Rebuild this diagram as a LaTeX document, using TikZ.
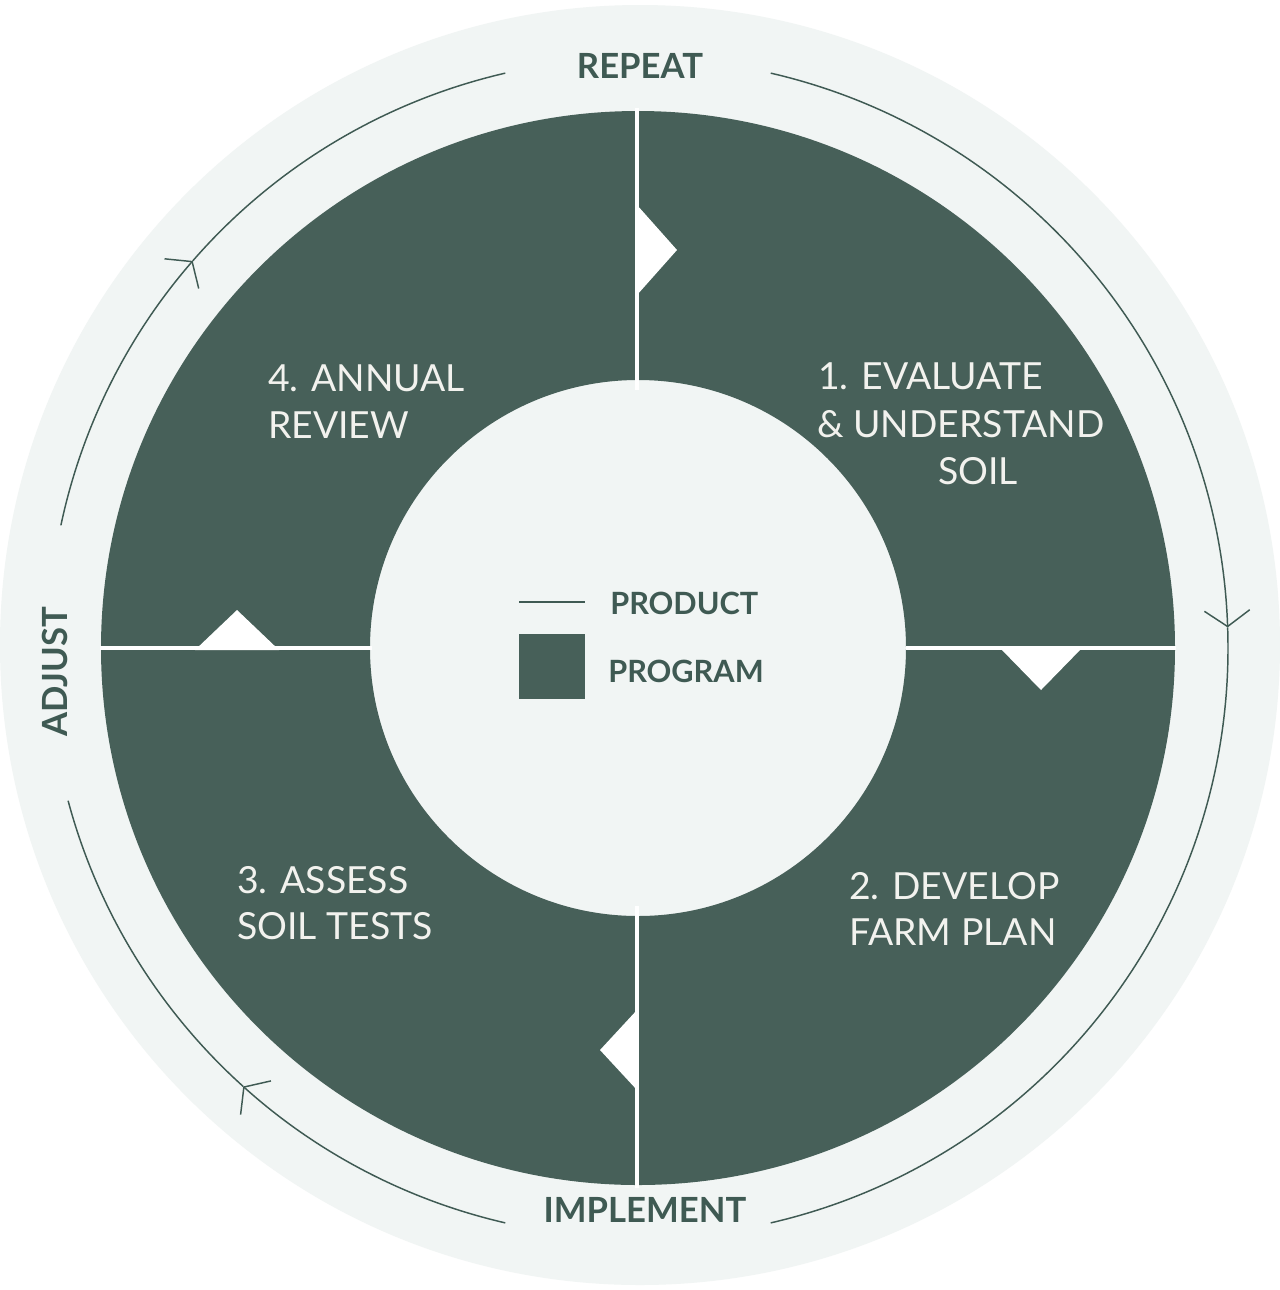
\documentclass[tikz,border=0pt]{standalone}
\usepackage{fontspec}
\setmainfont{Lato}
\usetikzlibrary{arrows.meta,calc}
\definecolor{dk}{HTML}{476059}
\definecolor{bg}{HTML}{F1F5F4}
\definecolor{lbl}{HTML}{3F5A53}
\definecolor{lt}{HTML}{F2F2EE}
\begin{document}
\begin{tikzpicture}[x=0.75pt,y=-0.75pt,
  cyc/.style={draw=lbl,line width=1.1pt},
  tip/.style={-{Straight Barb[length=12pt,width=34pt,line width=1.1pt]}},
  outlbl/.style={text=lbl,font=\fontsize{26}{30}\selectfont\bfseries},
  qtxt/.style={text=lt,font=\fontsize{28}{34}\selectfont,anchor=west,inner sep=0pt},
  lgd/.style={text=lbl,font=\fontsize{23}{26}\selectfont\bfseries,anchor=west,inner sep=0pt},
  notch/.style={fill=white,draw=none}]
\fill[white] (0,0) rectangle (1280,1290);
\useasboundingbox (0,0) rectangle (1280,1290);
\fill[bg] (640,645) circle[radius=640];
\coordinate (c) at (638,648);
% annulus
\fill[dk,even odd rule] (c) circle[radius=537] (c) circle[radius=268];
% separator lines
\draw[white,line width=3pt] (637,108) -- (637,390);
\draw[white,line width=3pt] (637,906) -- (637,1188);
\draw[white,line width=3pt] (100,648) -- (372,648);
\draw[white,line width=3pt] (906,648) -- (1176,648);
% notches
\fill[notch] (637,205) -- (677,250) -- (637,295) -- cycle;
\fill[notch] (1000,648) -- (1041,690) -- (1082,648) -- cycle;
\fill[notch] (637,1010) -- (600,1050) -- (637,1090) -- cycle;
\fill[notch] (195,650) -- (237,610) -- (279,650) -- cycle;
% cycle arcs (radius 590 about c)
\draw[cyc,tip] ($(c)+(77:590 and -590)$) arc[start angle=77,end angle=2,x radius=590,y radius=-590];
\draw[cyc] ($(c)+(2:590 and -590)$) arc[start angle=2,end angle=-77,x radius=590,y radius=-590];
\draw[cyc,tip] ($(c)+(257:590 and -590)$) arc[start angle=257,end angle=228,x radius=590,y radius=-590];
\draw[cyc] ($(c)+(228:590 and -590)$) arc[start angle=228,end angle=195,x radius=590,y radius=-590];
\draw[cyc,tip] ($(c)+(168:590 and -590)$) arc[start angle=168,end angle=139,x radius=590,y radius=-590];
\draw[cyc] ($(c)+(139:590 and -590)$) arc[start angle=139,end angle=103,x radius=590,y radius=-590];
% outer labels
\node[outlbl] (rep) at (640,66) {REPEAT};
\node[outlbl] (imp) at (645,1210) {IMPLEMENT};
\node[outlbl,rotate=90] (adj) at (55,672) {ADJUST};
% quadrant text
\node[qtxt] (q4a) at (268,378) {4. ANNUAL};
\node[qtxt] (q4b) at (268,425) {REVIEW};
\node[qtxt] (q1a) at (818,376) {1. EVALUATE};
\node[qtxt] (q1b) at (817,424) {\& UNDERSTAND};
\node[qtxt] (q1c) at (938,471) {SOIL};
\node[qtxt] (q2a) at (849,886) {2. DEVELOP};
\node[qtxt] (q2b) at (849,932) {FARM PLAN};
\node[qtxt] (q3a) at (237,880) {3. ASSESS};
\node[qtxt] (q3b) at (237,926) {SOIL TESTS};
% legend
\coordinate (l1) at (519,602);
\coordinate (l2) at (585,602);
\draw[lbl,line width=1.3pt] (l1) -- (l2);
\node[lgd] (prod) at (610,603) {PRODUCT};
\fill[dk] (519,634) rectangle (585,699);
\node[lgd] (prog) at (608,671) {PROGRAM};
\end{tikzpicture}
\end{document}
